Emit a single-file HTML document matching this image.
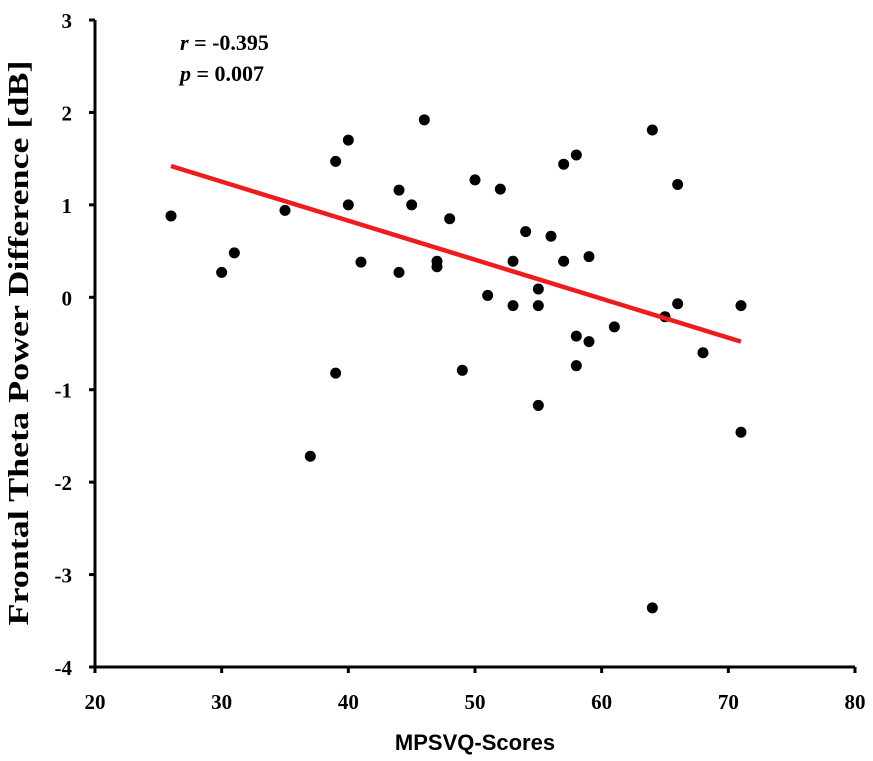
<!DOCTYPE html>
<html><head><meta charset="utf-8"><style>
body{margin:0;background:#fff;}
svg text{font-family:"Liberation Sans",sans-serif;}
</style></head><body>
<svg id="chart" width="873" height="756" xmlns="http://www.w3.org/2000/svg">
<g id="axes"></g><g id="marks"></g>
<text x="0" y="0" transform="translate(28,343) rotate(-90)" text-anchor="middle" textLength="565" lengthAdjust="spacingAndGlyphs" style="font-family:'Liberation Serif',serif;font-weight:bold;font-size:29px">Frontal Theta Power Difference [dB]</text>
<text x="475" y="750" text-anchor="middle" style="font-weight:bold;font-size:22px">MPSVQ-Scores</text>
<text x="180" y="50" style="font-family:'Liberation Serif',serif;font-weight:bold;font-size:22px"><tspan font-style="italic">r</tspan> = -0.395</text>
<text x="180" y="81" style="font-family:'Liberation Serif',serif;font-weight:bold;font-size:22px"><tspan font-style="italic">p</tspan> = 0.007</text>
</svg>
<script>
const xVals=[26,30,31,35,37,39,39,40,40,41,44,44,45,46,47,47,48,49,50,51,52,53,53,54,55,55,55,56,57,57,58,58,58,59,59,61,64,64,65,66,66,68,71,71];
const yVals=[0.88,0.27,0.48,0.94,-1.72,1.47,-0.82,1.70,1.00,0.38,1.16,0.27,1.00,1.92,0.39,0.33,0.85,-0.79,1.27,0.02,1.17,0.39,-0.09,0.71,0.09,-0.09,-1.17,0.66,1.44,0.39,1.54,-0.42,-0.74,0.44,-0.48,-0.32,1.81,-3.36,-0.21,-0.07,1.22,-0.60,-0.09,-1.46];
const xTicks=[20,30,40,50,60,70,80];
const yTicks=[3,2,1,0,-1,-2,-3,-4];
const fitLine=[[26,1.42],[71,-0.48]];
const NS="http://www.w3.org/2000/svg";
const X0=95,X1=855,Y0=667,Y1=20;
const sx=v=>X0+(v-20)/60*(X1-X0);
const sy=v=>Y0-(v+4)/7*(Y0-Y1);
const axes=document.getElementById('axes'),marks=document.getElementById('marks');
function mk(t,a,p){const e=document.createElementNS(NS,t);for(const k in a)e.setAttribute(k,a[k]);p.appendChild(e);return e;}
let e=mk('line',{x1:X0,y1:Y1,x2:X0,y2:Y0+1.5,stroke:'#000','stroke-width':3},axes);

e=mk('line',{x1:X0-1.5,y1:Y0,x2:X1,y2:Y0,stroke:'#000','stroke-width':3},axes);

const tf="font-family:'Liberation Serif',serif;font-weight:bold;font-size:21px";
xTicks.forEach(v=>{mk('line',{x1:sx(v),y1:Y0,x2:sx(v),y2:Y0+6,stroke:'#000','stroke-width':3},axes);
 const t=mk('text',{x:sx(v),y:Y0+42,'text-anchor':'middle',style:tf},axes);t.textContent=v;
 });
yTicks.forEach(v=>{mk('line',{x1:X0-6,y1:sy(v),x2:X0,y2:sy(v),stroke:'#000','stroke-width':3},axes);
 const t=mk('text',{x:X0-23,y:sy(v)+8,'text-anchor':'end',style:tf},axes);t.textContent=v;
 });
xVals.forEach((x,i)=>{const c=mk('circle',{cx:sx(x),cy:sy(yVals[i]),r:5.5,fill:'#000'},marks);
 });
const l=mk('line',{x1:sx(fitLine[0][0]),y1:sy(fitLine[0][1]),x2:sx(fitLine[1][0]),y2:sy(fitLine[1][1]),stroke:'#ee1c1c','stroke-width':4.5},marks);

</script>
</body></html>
